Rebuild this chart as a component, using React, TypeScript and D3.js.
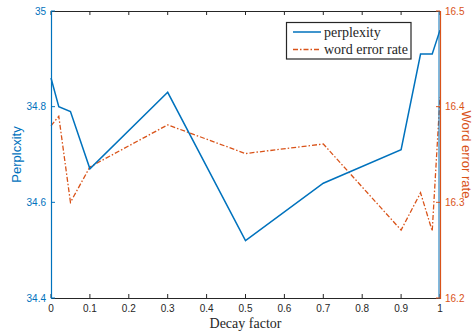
import React from 'react';
import * as d3 from 'd3';

const decay = [0, 0.02, 0.05, 0.1, 0.3, 0.5, 0.7, 0.9, 0.95, 0.98, 1];
const perplexity = [34.86, 34.8, 34.79, 34.67, 34.83, 34.52, 34.64, 34.71, 34.91, 34.91, 34.96];
const werX = [0, 0.02, 0.05, 0.1, 0.3, 0.5, 0.7, 0.9, 0.95, 0.98, 1];
const wer = [16.38, 16.39, 16.3, 16.337, 16.381, 16.351, 16.361, 16.271, 16.31, 16.27, 16.41];
const xTicks = [0, 0.1, 0.2, 0.3, 0.4, 0.5, 0.6, 0.7, 0.8, 0.9, 1];
const leftTicks = [34.4, 34.6, 34.8, 35];
const rightTicks = [16.2, 16.3, 16.4, 16.5];

const BLUE = '#0072BD';
const ORANGE = '#D95319';
const DARK = '#262626';

export default function App() {
  const width = 476;
  const height = 331;
  const margin = { top: 11, right: 36, bottom: 33, left: 51 };
  const x0 = margin.left;
  const x1 = width - margin.right;
  const y0 = height - margin.bottom;
  const y1 = margin.top;

  const x = d3.scaleLinear().domain([0, 1]).range([x0, x1]);
  const yL = d3.scaleLinear().domain([34.4, 35]).range([y0, y1]);
  const yR = d3.scaleLinear().domain([16.2, 16.5]).range([y0, y1]);

  const pLine = d3.line<number>().x((_, i) => x(decay[i])).y(d => yL(d));
  const wLine = d3.line<number>().x((_, i) => x(werX[i])).y(d => yR(d));

  const sans = 'Helvetica, Arial, "Liberation Sans", sans-serif';
  const serif = '"Times New Roman", "Liberation Serif", serif';
  const tl = 4;

  return (
    <svg width={width} height={height} style={{ position: 'absolute', left: 0, top: 0, background: '#fff' }}>
      {/* data */}
      <path d={wLine(wer)!} fill="none" stroke={ORANGE} strokeWidth={1.3} strokeDasharray="5,2,1.5,2" />
      <path d={pLine(perplexity)!} fill="none" stroke={BLUE} strokeWidth={1.5} />

      {/* box: top & bottom */}
      <line x1={x0} x2={x1} y1={y1 + 0.5} y2={y1 + 0.5} stroke={DARK} strokeWidth={1} />
      <line x1={x0} x2={x1} y1={y0 + 0.5} y2={y0 + 0.5} stroke={DARK} strokeWidth={1} />
      {xTicks.map(t => (
        <g key={t}>
          <line x1={x(t)} x2={x(t)} y1={y0} y2={y0 - tl} stroke={DARK} />
          <line x1={x(t)} x2={x(t)} y1={y1} y2={y1 + tl} stroke={DARK} />
          <text x={x(t)} y={y0 + 14} textAnchor="middle" fontSize={10} fontFamily={sans} fill={DARK}>
            {d3.format('~g')(t)}
          </text>
        </g>
      ))}

      {/* left axis */}
      <line x1={x0 + 0.5} x2={x0 + 0.5} y1={y1} y2={y0 + 1} stroke={BLUE} strokeWidth={1.2} />
      <line x1={x1 - 1} x2={x1 - 1} y1={y1} y2={y0 + 1} stroke={BLUE} strokeWidth={1} />
      {leftTicks.map(t => (
        <g key={t}>
          <line x1={x0} x2={x0 + tl} y1={yL(t)} y2={yL(t)} stroke={BLUE} />
          <text x={x0 - 5} y={yL(t)} dy="0.35em" textAnchor="end" fontSize={10} fontFamily={sans} fill={BLUE}>
            {d3.format('.1f')(t).replace(/\.0$/, '')}
          </text>
        </g>
      ))}

      {/* right axis */}
      <line x1={x1 + 0.5} x2={x1 + 0.5} y1={y1} y2={y0 + 1} stroke={ORANGE} strokeWidth={1.2} />
      {rightTicks.map(t => (
        <g key={t}>
          <line x1={x1} x2={x1 - tl} y1={yR(t)} y2={yR(t)} stroke={ORANGE} />
          <text x={x1 + 5} y={yR(t)} dy="0.35em" textAnchor="start" fontSize={10} fontFamily={sans} fill={ORANGE}>
            {d3.format('.1f')(t)}
          </text>
        </g>
      ))}

      {/* axis titles */}
      <text x={(x0 + x1) / 2} y={y0 + 30} textAnchor="middle" fontSize={14} fontFamily={serif} fill={DARK}>
        Decay factor
      </text>
      <text
        transform={`translate(21, ${(y0 + y1) / 2}) rotate(-90)`}
        textAnchor="middle"
        fontSize={13}
        fontFamily={sans}
        fill={BLUE}
      >
        Perplcxity
      </text>
      <text
        transform={`translate(462, ${(y0 + y1) / 2}) rotate(90)`}
        textAnchor="middle"
        fontSize={13}
        fontFamily={sans}
        fill={ORANGE}
      >
        Word error rate
      </text>

      {/* legend */}
      <g>
        <rect x={286.5} y={22.5} width={124.5} height={36.5} fill="#fff" stroke={DARK} strokeWidth={1.2} />
        <line x1={293} x2={321} y1={32} y2={32} stroke={BLUE} strokeWidth={1.5} />
        <text x={324} y={32} dy="0.35em" fontSize={14} fontFamily={serif} fill={DARK}>perplexity</text>
        <line x1={293} x2={321} y1={49.5} y2={49.5} stroke={ORANGE} strokeWidth={1.3} strokeDasharray="5,2,1.5,2" />
        <text x={324} y={49.5} dy="0.35em" fontSize={14} fontFamily={serif} fill={DARK}>word error rate</text>
      </g>
    </svg>
  );
}
